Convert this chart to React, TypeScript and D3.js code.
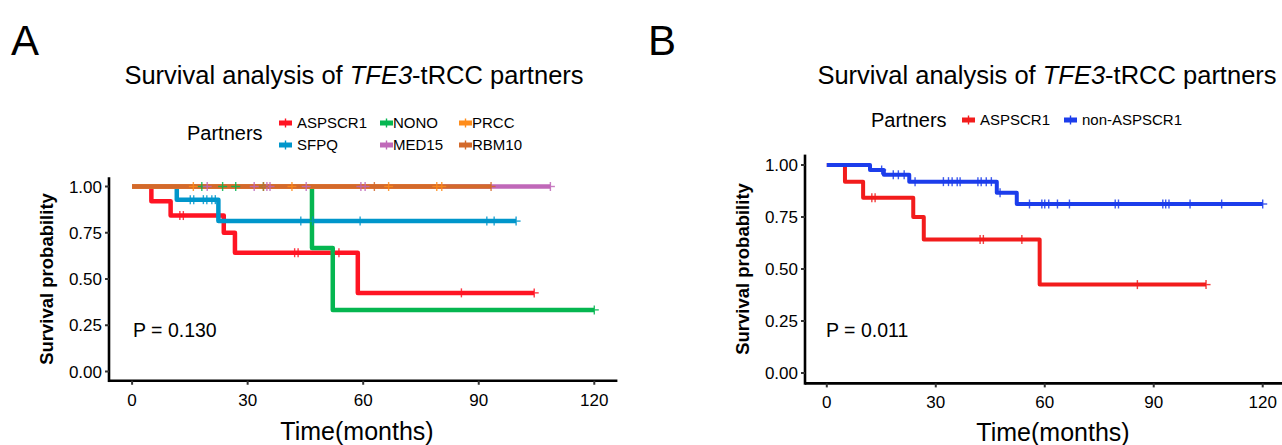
import React from "react";
import * as d3 from "d3";

// ---------- DATA ----------
const xTicks = [0, 30, 60, 90, 120];
const yTicks = [0, 0.25, 0.5, 0.75, 1];
const yTickLabels = ["0.00", "0.25", "0.50", "0.75", "1.00"];

// Panel A series
const aSeriesNames = ["ASPSCR1", "SFPQ", "NONO", "MED15", "PRCC", "RBM10"];
const aSeriesColors = ["#FF1423", "#0096CB", "#05B650", "#C068B9", "#FF8C1A", "#D3692B"];

const aspscr1Times = [0, 5, 10, 23.8, 26.7, 58.6];
const aspscr1Surv = [1, 0.92, 0.843, 0.75, 0.642, 0.425];
const aspscr1End = 104.4;
const aspscr1Censor = [12.4, 13.3, 42.2, 43.1, 53.7, 85.5, 104.4];

const sfpqTimes = [0, 11.6, 22.4];
const sfpqSurv = [1, 0.929, 0.813];
const sfpqEnd = 99.7;
const sfpqCensor = [15.1, 16, 18.5, 19.4, 20.7, 21.6, 43.8, 46.9, 59.2, 92.1, 94, 99.7];

const nonoTimes = [0, 46.7, 52.1];
const nonoSurv = [1, 0.667, 0.333];
const nonoEnd = 120;
const nonoCensor = [18.1, 23.5, 26.9, 34.1, 120];

const med15Times = [0];
const med15Surv = [1];
const med15End = 108.6;
const med15Censor = [19.5, 31.7, 35, 35.8, 45.2, 59.4, 60.5, 108.6];

const prccTimes = [0];
const prccSurv = [1];
const prccEnd = 80.4;
const prccCensor = [15.9, 41.5, 66.6, 79.1, 80.4];

const rbm10Times = [0];
const rbm10Surv = [1];
const rbm10End = 93.2;
const rbm10Censor = [34.1, 62.9, 93.2];

// Panel B series
const bSeriesNames = ["ASPSCR1", "non-ASPSCR1"];
const bSeriesColors = ["#F21C1C", "#1C3DEB"];

const nonAspTimes = [0, 11.9, 15.7, 22.7, 46.8, 52.3];
const nonAspSurv = [1, 0.976, 0.953, 0.92, 0.867, 0.8125];
const nonAspEnd = 120;
const nonAspCensor = [15.1, 18.3, 19.7, 21.3, 24.3, 32.1, 33.5, 34.5, 35.9, 36.7, 41.6, 42.5, 43.9, 45.3, 47.7,
  55.8, 59.2, 60, 61.1, 63.5, 66.8, 79.4, 80.3, 92.5, 93.3, 94.2, 100, 108.7, 120];

const pValueA = "P = 0.130";
const pValueB = "P = 0.011";

type Series = { name: string; color: string; times: number[]; surv: number[]; end: number; censor: number[] };

const seriesA: Series[] = [
  { name: aSeriesNames[0], color: aSeriesColors[0], times: aspscr1Times, surv: aspscr1Surv, end: aspscr1End, censor: aspscr1Censor },
  { name: aSeriesNames[1], color: aSeriesColors[1], times: sfpqTimes, surv: sfpqSurv, end: sfpqEnd, censor: sfpqCensor },
  { name: aSeriesNames[2], color: aSeriesColors[2], times: nonoTimes, surv: nonoSurv, end: nonoEnd, censor: nonoCensor },
  { name: aSeriesNames[3], color: aSeriesColors[3], times: med15Times, surv: med15Surv, end: med15End, censor: med15Censor },
  { name: aSeriesNames[4], color: aSeriesColors[4], times: prccTimes, surv: prccSurv, end: prccEnd, censor: prccCensor },
  { name: aSeriesNames[5], color: aSeriesColors[5], times: rbm10Times, surv: rbm10Surv, end: rbm10End, censor: rbm10Censor },
];

const seriesB: Series[] = [
  { name: bSeriesNames[0], color: bSeriesColors[0], times: aspscr1Times, surv: aspscr1Surv, end: aspscr1End, censor: aspscr1Censor },
  { name: bSeriesNames[1], color: bSeriesColors[1], times: nonAspTimes, surv: nonAspSurv, end: nonAspEnd, censor: nonAspCensor },
];

const FONT = "'Liberation Sans', Arial, Helvetica, sans-serif";

function survAt(s: Series, t: number) {
  let v = s.surv[0];
  for (let i = 0; i < s.times.length; i++) if (s.times[i] <= t) v = s.surv[i];
  return v;
}

type PanelProps = {
  series: Series[];
  x0: number; x1: number; y0: number; y1: number;
  lineWidth: number;
  pText: string;
  pX: number; pY: number;
  yTitleX: number;
  xTitleX: number;
  xTitleY: number;
};

function Panel(p: PanelProps) {
  const x = d3.scaleLinear().domain([-6, 126]).range([p.x0, p.x1]);
  const y = d3.scaleLinear().domain([-0.05, 1.05]).range([p.y0, p.y1]);
  const line = d3.line<[number, number]>().x(d => x(d[0])).y(d => y(d[1])).curve(d3.curveStepAfter);
  const axisY = p.y0;
  const axisX = p.x0;
  return (
    <g>
      {p.series.map((s, i) => {
        const pts: [number, number][] = s.times.map((t, j) => [t, s.surv[j]] as [number, number]);
        pts.push([s.end, s.surv[s.surv.length - 1]]);
        return <path key={"l" + i} d={line(pts) || ""} fill="none" stroke={s.color} strokeWidth={p.lineWidth} strokeLinejoin="round" />;
      })}
      {p.series.map((s, i) => (
        <g key={"c" + i} stroke={s.color} strokeWidth={1.4} opacity={0.85}>
          {s.censor.map((t, j) => {
            const cx = x(t), cy = y(survAt(s, t));
            return <g key={j}><line x1={cx} x2={cx} y1={cy - 4.5} y2={cy + 4.5} /><line x1={cx - 4.5} x2={cx + 4.5} y1={cy} y2={cy} /></g>;
          })}
        </g>
      ))}
      <line x1={axisX} x2={p.x1} y1={axisY} y2={axisY} stroke="#000" strokeWidth={2.6} />
      <line x1={axisX} x2={axisX} y1={p.y1} y2={axisY + 1.3} stroke="#000" strokeWidth={2.6} />
      {xTicks.map(t => (
        <g key={"xt" + t}>
          <line x1={x(t)} x2={x(t)} y1={axisY} y2={axisY + 4} stroke="#333" strokeWidth={2} />
          <text x={x(t)} y={axisY + 25} textAnchor="middle" fontSize={17} fontFamily={FONT} fill="#000">{t}</text>
        </g>
      ))}
      {yTicks.map((t, i) => (
        <g key={"yt" + t}>
          <line x1={axisX - 4} x2={axisX} y1={y(t)} y2={y(t)} stroke="#333" strokeWidth={2} />
          <text x={axisX - 7} y={y(t) + 6} textAnchor="end" fontSize={17} fontFamily={FONT} fill="#000">{yTickLabels[i]}</text>
        </g>
      ))}
      <text transform={`translate(${p.yTitleX},${(y(0) + y(1)) / 2}) rotate(-90)`} textAnchor="middle" fontSize={18.5} fontWeight="bold" fontFamily={FONT} fill="#000">Survival probability</text>
      <text x={p.xTitleX} y={p.xTitleY} textAnchor="middle" fontSize={25} fontFamily={FONT} fill="#000">Time(months)</text>
      <text x={p.pX} y={p.pY} fontSize={19.5} fontFamily={FONT} fill="#000">{p.pText}</text>
    </g>
  );
}

function LegendKey({ x, y, color }: { x: number; y: number; color: string }) {
  return (
    <g>
      <rect x={x} y={y - 2.5} width={13} height={5} fill={color} />
      <line x1={x + 6.5} x2={x + 6.5} y1={y - 4.5} y2={y + 4.5} stroke={color} strokeWidth={1.4} />
    </g>
  );
}

function Title({ x, y }: { x: number; y: number }) {
  return (
    <text x={x} y={y} textAnchor="middle" fontSize={25.5} fontFamily={FONT} fill="#000">
      Survival analysis of <tspan fontStyle="italic">TFE3</tspan>-tRCC partners
    </text>
  );
}

export default function App() {
  const aLegCols = [279, 380, 459];
  const aLegRows = [123, 145];
  return (
    <svg width={1282} height={445} style={{ position: "absolute", left: 0, top: 0, background: "#fff" }}>
      <rect x={0} y={0} width={1282} height={445} fill="#fff" />
      {/* Panel A */}
      <text x={11} y={55} fontSize={42} fontFamily={FONT} fill="#000">A</text>
      <Title x={354} y={84} />
      <text x={187} y={140} fontSize={20} fontFamily={FONT} fill="#000">Partners</text>
      {seriesA.map((s, i) => {
        const col = Math.floor(i / 2), row = i % 2;
        const lx = aLegCols[col], ly = aLegRows[row];
        return (
          <g key={s.name}>
            <LegendKey x={lx} y={ly} color={s.color} />
            <text x={lx + (col === 0 ? 18 : 13)} y={ly + 5} fontSize={15} fontFamily={FONT} fill="#000">{s.name}</text>
          </g>
        );
      })}
      <Panel series={seriesA} x0={109} x1={617.4} y0={380.75} y1={177.25} lineWidth={4.5}
        pText={pValueA} pX={133} pY={337} yTitleX={53} xTitleX={357} xTitleY={440} />

      {/* Panel B */}
      <text x={648} y={55} fontSize={42} fontFamily={FONT} fill="#000">B</text>
      <Title x={1047} y={84} />
      <text x={871} y={127} fontSize={20} fontFamily={FONT} fill="#000">Partners</text>
      {seriesB.map((s, i) => {
        const lx = [962, 1064][i];
        return (
          <g key={s.name}>
            <LegendKey x={lx} y={120} color={s.color} />
            <text x={lx + 18} y={125} fontSize={15} fontFamily={FONT} fill="#000">{s.name}</text>
          </g>
        );
      })}
      <Panel series={seriesB} x0={805} x1={1284.5} y0={383.4} y1={154.6} lineWidth={4}
        pText={pValueB} pX={826} pY={337} yTitleX={749} xTitleX={1053} xTitleY={441} />
    </svg>
  );
}
